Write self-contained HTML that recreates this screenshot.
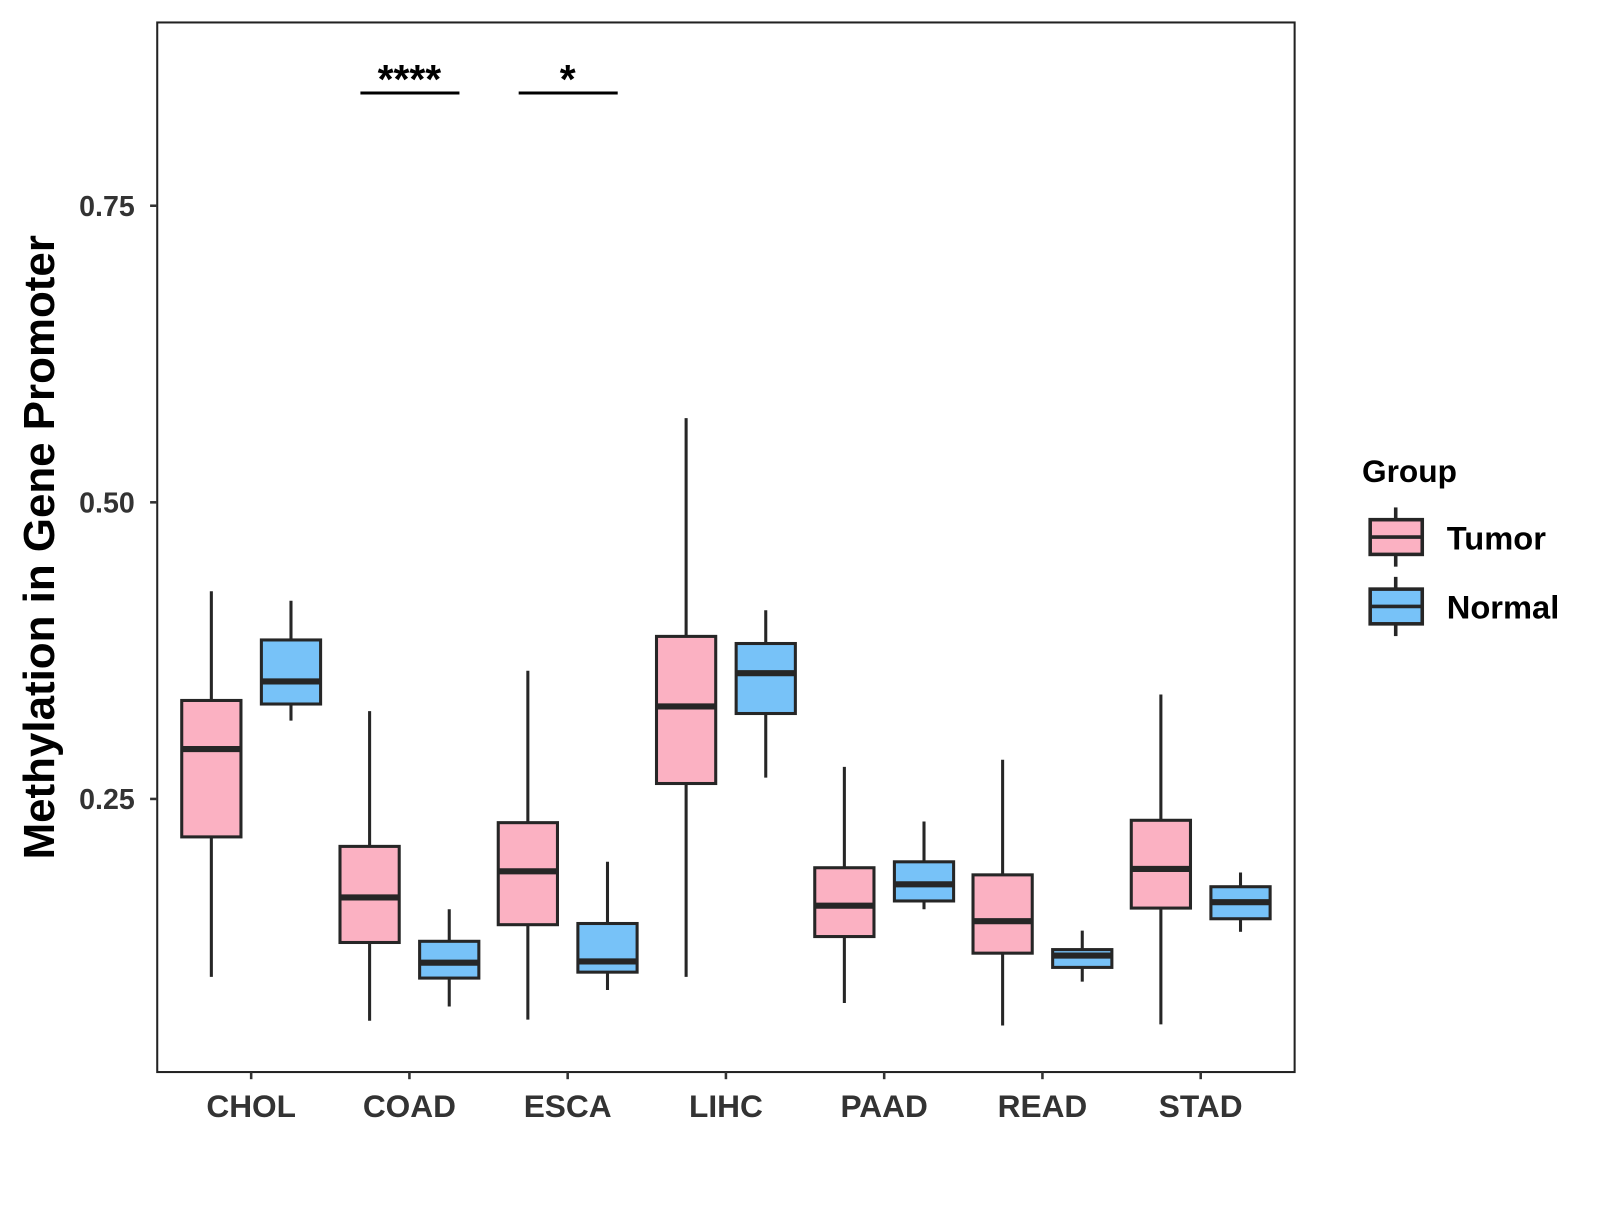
<!DOCTYPE html>
<html><head><meta charset="utf-8"><style>
html,body{margin:0;padding:0;background:#fff;}
svg text{font-family:"Liberation Sans",Arial,sans-serif;font-weight:bold;}
</style></head><body>
<svg id="chart" width="1600" height="1200" viewBox="0 0 1600 1200">
<g transform="scale(1.021)">
<rect x="154" y="22" width="1114" height="1028" fill="#fff" stroke="#222" stroke-width="2"/>
<g id="marks"></g>
<text x="0" y="0" transform="translate(53,536) rotate(-90)" text-anchor="middle" font-size="43" fill="#000">Methylation in Gene Promoter</text>
<g>
<text x="1334" y="472" font-size="31" fill="#000">Group</text>
<g>
<line x1="1367" y1="497" x2="1367" y2="555" stroke="#262626" stroke-width="3.5"/>
<rect x="1342" y="509" width="51" height="34" fill="#FBB1C2" stroke="#262626" stroke-width="3.5"/>
<line x1="1342" y1="526" x2="1393" y2="526" stroke="#262626" stroke-width="3.5"/>
<text x="1417" y="538" font-size="32" fill="#000">Tumor</text></g>
<g>
<line x1="1367" y1="565" x2="1367" y2="623" stroke="#262626" stroke-width="3.5"/>
<rect x="1342" y="577" width="51" height="34" fill="#77C2F8" stroke="#262626" stroke-width="3.5"/>
<line x1="1342" y1="594" x2="1393" y2="594" stroke="#262626" stroke-width="3.5"/>
<text x="1417" y="606" font-size="32" fill="#000">Normal</text></g>
</g>
</g>
</svg>
<script>
const categories=["CHOL","COAD","ESCA","LIHC","PAAD","READ","STAD"];
const tumorLow=[0.100,0.063,0.064,0.100,0.078,0.059,0.060];
const tumorQ1=[0.218,0.129,0.144,0.263,0.134,0.120,0.158];
const tumorMed=[0.292,0.167,0.189,0.328,0.160,0.147,0.191];
const tumorQ3=[0.333,0.210,0.230,0.387,0.192,0.186,0.232];
const tumorHigh=[0.425,0.324,0.358,0.571,0.277,0.283,0.338];
const normalLow=[0.316,0.075,0.089,0.268,0.157,0.096,0.138];
const normalQ1=[0.330,0.099,0.104,0.322,0.164,0.108,0.149];
const normalMed=[0.349,0.112,0.113,0.356,0.178,0.118,0.163];
const normalQ3=[0.384,0.130,0.145,0.381,0.197,0.123,0.176];
const normalHigh=[0.417,0.157,0.197,0.409,0.231,0.139,0.188];
const yTicks=[0.25,0.50,0.75];
const yTickLabels=["0.25","0.50","0.75"];
const sigCats=["COAD","ESCA"];
const sigLabels=["****","*"];
const sigValue=[0.845,0.845];

const NS="http://www.w3.org/2000/svg";
const g=document.getElementById('marks');
function y(v){return 492-(v-0.5)*1162;}
function x(i){return 246+i*155;}
function el(t,a){const e=document.createElementNS(NS,t);for(const k in a)e.setAttribute(k,a[k]);g.appendChild(e);return e;}
yTicks.forEach((v,i)=>{
  const t=el('line',{x1:147,x2:154,y1:y(v),y2:y(v),stroke:'#333','stroke-width':2.5});
  
  
  const l=el('text',{x:132,y:y(v)+10,'text-anchor':'end','font-size':28,fill:'#333'});
  l.textContent=yTickLabels[i];
  
  
});
categories.forEach((c,i)=>{
  const t=el('line',{x1:x(i),x2:x(i),y1:1050,y2:1057,stroke:'#333','stroke-width':2.5});
  
  
  const l=el('text',{x:x(i),y:1094,'text-anchor':'middle','font-size':31,fill:'#333'});
  l.textContent=c;
  
  
});
function box(cx,lo,q1,md,q3,hi,fill,name){
  const w=58;
  const wh=el('line',{x1:cx,x2:cx,y1:y(hi),y2:y(lo),stroke:'#262626','stroke-width':3});
  
  
  const r=el('rect',{x:cx-w/2,y:y(q3),width:w,height:y(q1)-y(q3),fill:fill,stroke:'#262626','stroke-width':3});
  
  
  const m=el('line',{x1:cx-w/2,x2:cx+w/2,y1:y(md),y2:y(md),stroke:'#262626','stroke-width':6});
  
  
}
categories.forEach((c,i)=>{
  box(x(i)-39,tumorLow[i],tumorQ1[i],tumorMed[i],tumorQ3[i],tumorHigh[i],'#FBB1C2','tumor-'+c.toLowerCase());
  box(x(i)+39,normalLow[i],normalQ1[i],normalMed[i],normalQ3[i],normalHigh[i],'#77C2F8','normal-'+c.toLowerCase());
});
sigCats.forEach((c,k)=>{
  const i=categories.indexOf(c);
  const ln=el('line',{x1:x(i)-48,x2:x(i)+49,y1:y(sigValue[k]),y2:y(sigValue[k]),stroke:'#000','stroke-width':3});
  
  
  const t=el('text',{x:x(i),y:y(sigValue[k]),'text-anchor':'middle','font-size':40,fill:'#000'});
  t.textContent=sigLabels[k];
  
  
});
</script>
</body></html>
